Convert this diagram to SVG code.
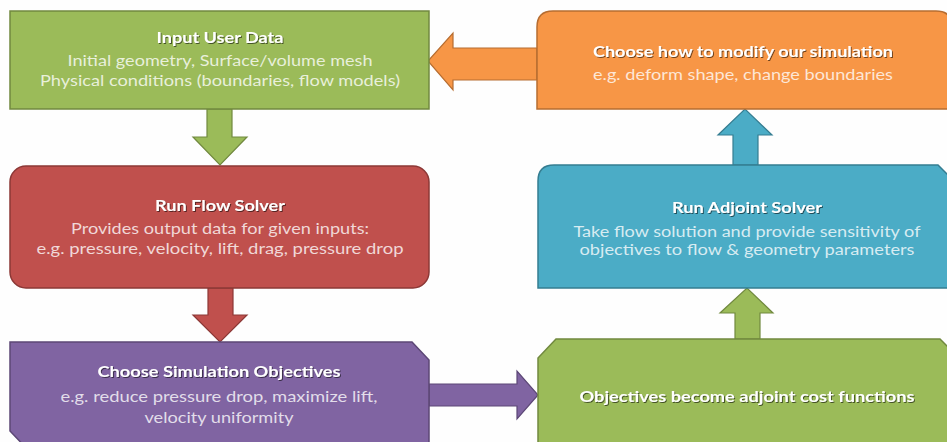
<svg xmlns="http://www.w3.org/2000/svg" width="947" height="442" viewBox="0 0 947 442">
<defs>
<filter id="sh" x="-10%" y="-50%" width="120%" height="200%">
<feDropShadow dx="1" dy="1" stdDeviation="0.6" flood-color="#000" flood-opacity="0.55"/>
</filter>
</defs>
<style>
text{font-family:Lato,"Open Sans","Liberation Sans",sans-serif;font-size:15px;text-anchor:middle}
.t{font-weight:bold;fill:#ffffff;filter:url(#sh)}
.s{fill:#ffffff;fill-opacity:0.78}
.box{stroke-width:1.5}
</style>
<rect width="947" height="442" fill="#fefefe"/>
<g id="connectors">
<polygon points="537,48 453,48 453,33 428,61 453,90 453,80 537,80" fill="#f79646" stroke="#b66d31" stroke-width="1.2"/>
<polygon points="207,109 232,109 232,137 247,137 220,165 193,137 207,137" fill="#9bbb59" stroke="#71893f" stroke-width="1.2"/>
<polygon points="208,288 233,288 233,315 247,315 220,342 193,315 208,315" fill="#c0504d" stroke="#8c3836" stroke-width="1.2"/>
<polygon points="429,384 517,384 517,371 538,395 517,419 517,406 429,406" fill="#8064a2" stroke="#5c4776" stroke-width="1.2"/>
<polygon points="735,339 760,339 760,313 773,313 747,288 720,313 735,313" fill="#9bbb59" stroke="#71893f" stroke-width="1.2"/>
<polygon points="733,165 758,165 758,135 772,135 745,109 718,135 733,135" fill="#4bacc6" stroke="#357d91" stroke-width="1.2"/>
</g>
<g id="n1">
<rect class="box" x="10" y="11" width="419" height="98" fill="#9bbb59" stroke="#71893f"/>
<text class="t" x="220" y="43" textLength="127" lengthAdjust="spacingAndGlyphs">Input User Data</text>
<text class="s" x="220" y="66" textLength="305" lengthAdjust="spacingAndGlyphs">Initial geometry, Surface/volume mesh</text>
<text class="s" x="220" y="86" textLength="360" lengthAdjust="spacingAndGlyphs">Physical conditions (boundaries, flow models)</text>
</g>
<g id="n2">
<path class="box" d="M537,109 V27 Q537,11 553,11 H936 Q952,11 952,27 V109 Z" fill="#f79646" stroke="#b66d31"/>
<text class="t" x="743" y="57" textLength="300" lengthAdjust="spacingAndGlyphs">Choose how to modify our simulation</text>
<text class="s" x="743" y="80" textLength="300" lengthAdjust="spacingAndGlyphs">e.g. deform shape, change boundaries</text>
</g>
<g id="n3">
<rect class="box" x="10" y="166" width="419" height="122" rx="16" fill="#c0504d" stroke="#8c3836"/>
<text class="t" x="220" y="211" textLength="130" lengthAdjust="spacingAndGlyphs">Run Flow Solver</text>
<text class="s" x="220" y="234" textLength="298" lengthAdjust="spacingAndGlyphs">Provides output data for given inputs:</text>
<text class="s" x="220" y="254" textLength="367" lengthAdjust="spacingAndGlyphs">e.g. pressure, velocity, lift, drag, pressure drop</text>
</g>
<g id="n4">
<path class="box" d="M538,288 V181 Q538,165 554,165 H938 L955,182 V288 Z" fill="#4bacc6" stroke="#357d91"/>
<text class="t" x="747" y="213" textLength="150" lengthAdjust="spacingAndGlyphs">Run Adjoint Solver</text>
<text class="s" x="747" y="237" textLength="347" lengthAdjust="spacingAndGlyphs">Take flow solution and provide sensitivity of</text>
<text class="s" x="747" y="255" textLength="335" lengthAdjust="spacingAndGlyphs">objectives to flow &amp; geometry parameters</text>
</g>
<g id="n5">
<path class="box" d="M10,342 H412 L429,360 V452 H30 L10,431 Z" fill="#8064a2" stroke="#5c4776"/>
<text class="t" x="219" y="377" textLength="243" lengthAdjust="spacingAndGlyphs">Choose Simulation Objectives</text>
<text class="s" x="219" y="402" textLength="317" lengthAdjust="spacingAndGlyphs">e.g. reduce pressure drop, maximize lift,</text>
<text class="s" x="219" y="423" textLength="149" lengthAdjust="spacingAndGlyphs">velocity uniformity</text>
</g>
<g id="n6">
<path class="box" d="M538,452 V358 L556,339 H940 L956,355 V452 Z" fill="#9bbb59" stroke="#71893f"/>
<text class="t" x="747" y="402" textLength="335" lengthAdjust="spacingAndGlyphs">Objectives become adjoint cost functions</text>
</g>
</svg>
